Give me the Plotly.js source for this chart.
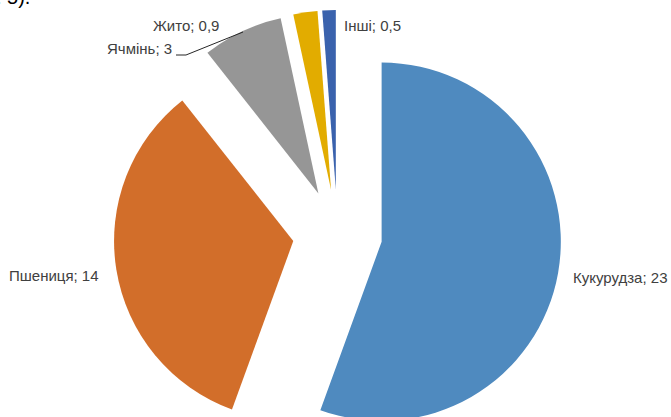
<!DOCTYPE html>
<html>
<head>
<meta charset="utf-8">
<script src="https://cdn.plot.ly/plotly-3.0.1.min.js"></script>
<style>
html, body { margin: 0; padding: 0; overflow: hidden; background: #fff; }
#chart { width: 671px; height: 458px; }
</style>
</head>
<body>
<div id="chart"></div>
<script>
// Data
var categories = ['Кукурудза', 'Пшениця', 'Ячмінь', 'Жито', 'Інші'];
var values = [23, 14, 3, 0.9, 0.5];
var valueLabels = ['23', '14', '3', '0,9', '0,5'];
var colors = ['#4F8ABF', '#D26E2A', '#969696', '#E2AC00', '#3A62AD'];

// Layout geometry (pixels)
var W = 671, H = 458, ML = 4, MR = 0, MT = 10, MB = 0;
var GW = W - ML - MR, GH = H - MT - MB;
function px(x) { return (x - ML) / GW; }
function py(y) { return 1 - (y - MT) / GH; }

// label positions in pixels (left edge, vertical centre)
var labelPos = [
  [571, 277],
  [7, 275],
  [105, 48],
  [151, 25],
  [342, 25]
];

var labelFont = { family: 'Liberation Sans, Arial, sans-serif', size: 15, color: '#404040' };

var annotations = categories.map(function (c, i) {
  return {
    xref: 'paper', yref: 'paper',
    x: px(labelPos[i][0]), y: py(labelPos[i][1]),
    xanchor: 'left', yanchor: 'middle',
    text: c + '; ' + valueLabels[i],
    showarrow: false,
    font: labelFont
  };
});

// cropped document text at top-left
annotations.push({
  xref: 'paper', yref: 'paper',
  x: px(32), y: py(10),
  xanchor: 'right', yanchor: 'bottom',
  text: '(рис. 5).',
  showarrow: false,
  font: { family: 'Liberation Sans, Arial, sans-serif', size: 20, color: '#000' }
});

var trace = {
  type: 'pie',
  labels: categories,
  values: values,
  sort: false,
  direction: 'clockwise',
  rotation: 0,
  pull: [0.25, 0.25, 0.25, 0.25, 0.25],
  marker: { colors: colors, line: { width: 0 } },
  textinfo: 'none',
  hoverinfo: 'label+value',
  showlegend: false
};

var layout = {
  width: W, height: H,
  margin: { l: ML, r: MR, t: MT, b: MB, pad: 0 },
  paper_bgcolor: '#ffffff',
  plot_bgcolor: '#ffffff',
  showlegend: false,
  annotations: annotations,
  shapes: [{
    type: 'path',
    xref: 'paper', yref: 'paper',
    path: 'M ' + px(176) + ',' + py(55) + ' L ' + px(186) + ',' + py(55) + ' L ' + px(243) + ',' + py(32),
    line: { color: '#262626', width: 1 }
  }]
};

Plotly.newPlot('chart', [trace], layout, { displayModeBar: false, staticPlot: true });
</script>
</body>
</html>
